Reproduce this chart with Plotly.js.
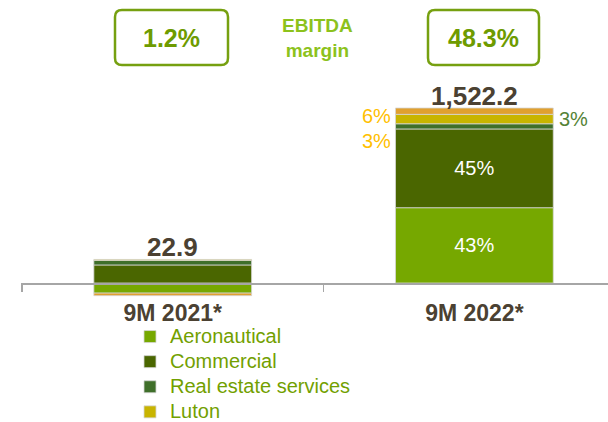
<!DOCTYPE html>
<html><head><meta charset="utf-8">
<script src="https://cdn.plot.ly/plotly-3.0.1.min.js"></script>
<style>html,body{margin:0;padding:0;background:#fff;overflow:hidden}</style>
</head><body><div id="chart" style="width:608px;height:422px"></div>
<script>
// ---- data ----
const categories = ['9M 2021*', '9M 2022*'];
const seriesNames = ['Aeronautical', 'Commercial', 'Real estate services', 'Luton', 'Brazil'];
const aeronautical = [-88, 655];
const commercial = [157, 685];
const realEstate = [39, 45];
const luton = [9, 82];
const brazil = [-22, 55.2];
const totalLabels = ['22.9', '1,522.2'];
const marginLabels = ['1.2%', '48.3%'];
const marginTitle = 'EBITDA<br>margin';
const shareAero = ['', '43%'];
const shareCommercial = ['', '45%'];
const shareRealEstate = ['', '3%'];
const shareLuton = ['', '6%'];
const shareBrazil = ['', '3%'];

// ---- styles ----
const colors = ['#76A800', '#4A6600', '#3F6F2A', '#C8B400', '#E0A030'];
const W = 608, H = 422, ML = 21, MR = 0, MT = 80, MB = 92;
const PW = W - ML - MR, PH = H - MT - MB;
const k = 175 / 1522.2;            // px per unit
const zeroPx = 283;                // pixel row of zero line
const yMin = -(H - MB - zeroPx) / k;
const yMax = yMin + PH / k;
const px = x => (x - ML) / PW;
const py = y => (H - MB - y) / PH;
const FONT = 'Liberation Sans, Arial, sans-serif';
const legendColor = '#72A000';

const seriesValues = [aeronautical, commercial, realEstate, luton, brazil];
const seriesText = [shareAero, shareCommercial, [], [], []];
const traces = seriesValues.map((vals, i) => ({
  type: 'bar',
  x: categories,
  y: vals,
  name: '<span style="font-size:20px">' + seriesNames[i] + '</span>',
  marker: {color: colors[i], line: {color: '#D6D6D6', width: 0.8}},
  text: seriesText[i],
  textposition: 'inside',
  insidetextanchor: 'middle',
  textfont: {family: FONT, size: 20, color: '#FFFFFF'},
  showlegend: i < 4,
  hoverinfo: 'x+y+name'
}));

function roundRect(x0, y0, x1, y1, r) {
  const P = (x, y) => px(x).toFixed(5) + ',' + py(y).toFixed(5);
  return 'M' + P(x0 + r, y0) + ' L' + P(x1 - r, y0) + ' Q' + P(x1, y0) + ' ' + P(x1, y0 + r) +
    ' L' + P(x1, y1 - r) + ' Q' + P(x1, y1) + ' ' + P(x1 - r, y1) +
    ' L' + P(x0 + r, y1) + ' Q' + P(x0, y1) + ' ' + P(x0, y1 - r) +
    ' L' + P(x0, y0 + r) + ' Q' + P(x0, y0) + ' ' + P(x0 + r, y0) + ' Z';
}

const boxes = [[115, 10, 228, 65], [428, 10, 539, 65]];
const shapes = boxes.map(b => ({
  type: 'path', xref: 'paper', yref: 'paper',
  path: roundRect(b[0], b[1], b[2], b[3], 7),
  line: {color: '#76A010', width: 2.5}, fillcolor: 'rgba(0,0,0,0)'
}));

const annotations = [];
boxes.forEach((b, i) => annotations.push({
  xref: 'paper', yref: 'paper', x: px((b[0] + b[2]) / 2), y: py((b[1] + b[3]) / 2),
  text: marginLabels[i], showarrow: false, xanchor: 'center', yanchor: 'middle',
  font: {family: FONT, size: 25, color: '#6E9B00', weight: 'bold'}
}));
annotations.push({
  xref: 'paper', yref: 'paper', x: px(318), y: py(38),
  text: marginTitle, showarrow: false, xanchor: 'center', yanchor: 'middle',
  font: {family: FONT, size: 19, color: '#8CC21C', weight: 'bold'}
});
// totals above the positive stack
categories.forEach((c, i) => {
  const posTop = seriesValues.reduce((s, v) => s + Math.max(v[i], 0), 0);
  annotations.push({
    xref: 'x', yref: 'y', x: c, y: posTop, yanchor: 'bottom', yshift: -5,
    text: totalLabels[i], showarrow: false,
    font: {family: FONT, size: 26, color: '#4B4132', weight: 'bold'}
  });
});
// small-segment share labels (2022)
const halfBar = 79;
annotations.push({xref: 'x', yref: 'y', x: categories[1], xshift: -halfBar - 2, xanchor: 'right',
  y: (zeroPx - 115.5) / k, yanchor: 'middle', text: shareLuton[1], showarrow: false,
  font: {family: FONT, size: 20, color: '#FFC000'}});
annotations.push({xref: 'x', yref: 'y', x: categories[1], xshift: -halfBar - 2, xanchor: 'right',
  y: (zeroPx - 141) / k, yanchor: 'middle', text: shareBrazil[1], showarrow: false,
  font: {family: FONT, size: 20, color: '#FFC000'}});
annotations.push({xref: 'x', yref: 'y', x: categories[1], xshift: halfBar + 4, xanchor: 'left',
  y: (zeroPx - 118.5) / k, yanchor: 'middle', text: shareRealEstate[1], showarrow: false,
  font: {family: FONT, size: 20, color: '#548235'}});

const layout = {
  width: W, height: H,
  margin: {l: ML, r: MR, t: MT, b: MB, pad: 0, autoexpand: false},
  paper_bgcolor: '#FFFFFF', plot_bgcolor: 'rgba(0,0,0,0)',
  barmode: 'relative', bargap: 0.477,
  font: {family: FONT},
  xaxis: {
    type: 'category', categoryorder: 'array', categoryarray: categories,
    range: [-0.503, 1.443], anchor: 'free', position: py(zeroPx), automargin: false,
    showline: true, linecolor: '#A6A6A6', linewidth: 1.5,
    ticks: 'outside', tickson: 'boundaries', ticklen: 7, tickwidth: 1.5, tickcolor: '#A6A6A6',
    ticklabelstandoff: 9,
    tickfont: {family: FONT, size: 23, color: '#4B4132', weight: 'bold'},
    showgrid: false, zeroline: false, fixedrange: true, layer: 'above traces'
  },
  yaxis: {range: [yMin, yMax], visible: false, showgrid: false, zeroline: false, fixedrange: true, automargin: false},
  showlegend: true,
  legend: {
    x: px(130), xanchor: 'left', y: py(319), yanchor: 'top',
    traceorder: 'normal', orientation: 'v',
    font: {family: FONT, size: 17, color: legendColor},
    bgcolor: 'rgba(0,0,0,0)', borderwidth: 0, tracegroupgap: 0
  },
  shapes: shapes,
  annotations: annotations
};

Plotly.newPlot('chart', traces, layout, {displayModeBar: false, staticPlot: true});
</script>
</body></html>
